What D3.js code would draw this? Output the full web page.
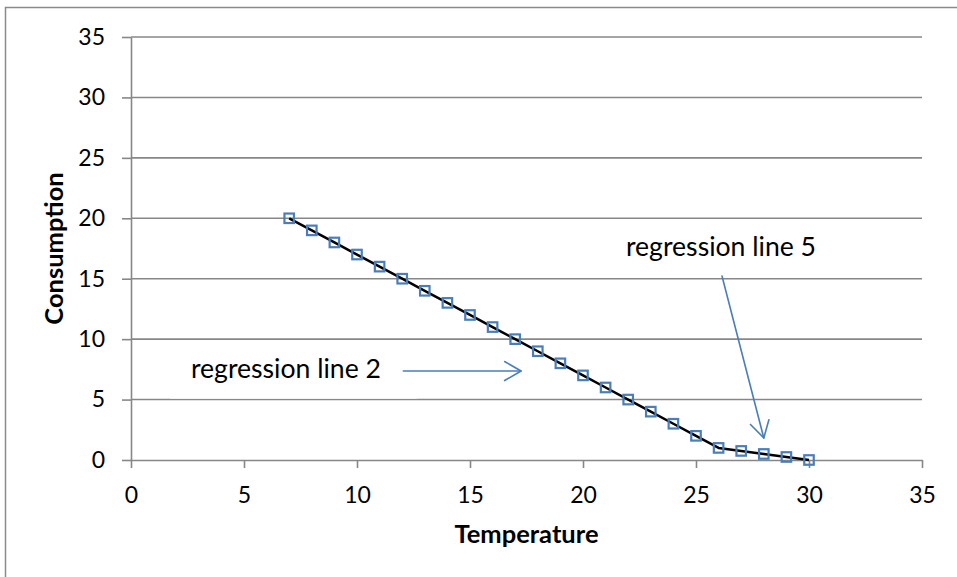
<!DOCTYPE html>
<html>
<head>
<meta charset="utf-8">
<script src="https://cdn.jsdelivr.net/npm/d3@7"></script>
<style>
  html, body { margin: 0; padding: 0; background: #fff; }
  svg { display: block; }
  text { font-family: Lato, "Open Sans", sans-serif; fill: #000; }
</style>
</head>
<body>
<svg id="chart" width="957" height="577"></svg>
<script>
// Temperature (x) vs consumption (y)
const temperature = [7, 8, 9, 10, 11, 12, 13, 14, 15, 16, 17, 18, 19, 20, 21, 22, 23, 24, 25, 26, 27, 28, 29, 30];
const consumption = [20, 19, 18, 17, 16, 15, 14, 13, 12, 11, 10, 9, 8, 7, 6, 5, 4, 3, 2, 1, 0.75, 0.5, 0.25, 0];

const xTicks = [0, 5, 10, 15, 20, 25, 30, 35];
const yTicks = [0, 5, 10, 15, 20, 25, 30, 35];

// Callout labels and their arrows, in data units
const calloutLabels = [
  { text: "regression line 2", x: 2.65, y: 6.78 },
  { text: "regression line 5", x: 21.9, y: 16.88 }
];
const calloutArrows = [
  { x1: 12.05, y1: 7.36, x2: 17.26, y2: 7.36 },
  { x1: 26.15, y1: 15.22, x2: 28.0, y2: 1.82 }
];
const calloutBox = { x1: 1.73, x2: 12.65, y1: 9.93, y2: 5.13 };

const svg = d3.select("#chart");
const plot = { left: 131, right: 922, top: 37, bottom: 460 };

const x = d3.scaleLinear().domain([0, 35]).range([plot.left, plot.right]);
const y = d3.scaleLinear().domain([0, 35]).range([plot.bottom, plot.top]);

const gridColor = "#878787";
const blue = "#4A7EBB";

// chart frame (only the top and left edges fall inside the view)
svg.append("rect")
  .attr("x", 5.5).attr("y", 7.5)
  .attr("width", 1200).attr("height", 1200)
  .attr("fill", "none").attr("stroke", "#8a8a8a").attr("stroke-width", 1.5);

// horizontal gridlines
svg.append("g").selectAll("line")
  .data(yTicks.filter(d => d > 0))
  .join("line")
  .attr("x1", plot.left).attr("x2", plot.right)
  .attr("y1", d => y(d)).attr("y2", d => y(d))
  .attr("stroke", gridColor).attr("stroke-width", 1.6);

// y axis
const yAxis = svg.append("g")
  .attr("transform", `translate(${plot.left},0)`)
  .call(d3.axisLeft(y).tickValues(yTicks).tickSize(9).tickSizeOuter(0).tickPadding(17));
yAxis.select(".domain").attr("stroke", gridColor).attr("stroke-width", 1.6);
yAxis.selectAll(".tick line").attr("stroke", gridColor).attr("stroke-width", 1.6);
yAxis.selectAll(".tick text")
  .style("font-family", "Lato, sans-serif").style("font-size", "23px").attr("fill", "#000");

// x axis
const xAxis = svg.append("g")
  .attr("transform", `translate(0,${plot.bottom})`)
  .call(d3.axisBottom(x).tickValues(xTicks).tickSize(8).tickSizeOuter(0));
xAxis.select(".domain").attr("stroke", gridColor).attr("stroke-width", 1.6);
xAxis.selectAll(".tick line").attr("stroke", gridColor).attr("stroke-width", 1.6);
xAxis.selectAll(".tick text")
  .attr("y", 43).attr("dy", 0)
  .style("font-family", "Lato, sans-serif").style("font-size", "23px").attr("fill", "#000");

// axis titles
svg.append("text")
  .attr("x", (plot.left + plot.right) / 2).attr("y", 543)
  .attr("text-anchor", "middle")
  .style("font-size", "25.5px").style("font-weight", "bold")
  .text("Temperature");

svg.append("text")
  .attr("transform", `translate(63,${(plot.top + plot.bottom) / 2}) rotate(-90)`)
  .attr("text-anchor", "middle")
  .style("font-size", "25.5px").style("font-weight", "bold")
  .text("Consumption");

// series
const points = temperature.map((t, i) => ({ t, c: consumption[i] }));

svg.append("path")
  .datum(points)
  .attr("fill", "none").attr("stroke", "#000").attr("stroke-width", 2.5)
  .attr("stroke-linejoin", "round")
  .attr("d", d3.line().x(d => x(d.t)).y(d => y(d.c)));

const m = 9.5;
svg.append("g").selectAll("rect")
  .data(points)
  .join("rect")
  .attr("x", d => x(d.t) - m / 2).attr("y", d => y(d.c) - m / 2)
  .attr("width", m).attr("height", m)
  .attr("fill", "none").attr("stroke", blue).attr("stroke-width", 2.2);

// callout text box background
svg.append("rect")
  .attr("x", x(calloutBox.x1)).attr("y", y(calloutBox.y1) + 0.6)
  .attr("width", x(calloutBox.x2) - x(calloutBox.x1))
  .attr("height", y(calloutBox.y2) - y(calloutBox.y1))
  .attr("fill", "#fff");

svg.append("g").selectAll("text")
  .data(calloutLabels)
  .join("text")
  .attr("x", d => x(d.x)).attr("y", d => y(d.y))
  .style("font-size", "26.6px")
  .text(d => d.text);

// arrows with open heads
const head = 19, spread = Math.PI / 6;
const arrows = svg.append("g")
  .attr("fill", "none").attr("stroke", blue).attr("stroke-width", 1.6)
  .attr("stroke-linecap", "round").attr("stroke-linejoin", "round");
calloutArrows.forEach(a => {
  const sx = x(a.x1), sy = y(a.y1), ex = x(a.x2), ey = y(a.y2);
  const ang = Math.atan2(ey - sy, ex - sx);
  arrows.append("line").attr("x1", sx).attr("y1", sy).attr("x2", ex).attr("y2", ey);
  const p = d3.path();
  p.moveTo(ex - head * Math.cos(ang - spread), ey - head * Math.sin(ang - spread));
  p.lineTo(ex, ey);
  p.lineTo(ex - head * Math.cos(ang + spread), ey - head * Math.sin(ang + spread));
  arrows.append("path").attr("d", p.toString());
});
</script>
</body>
</html>
